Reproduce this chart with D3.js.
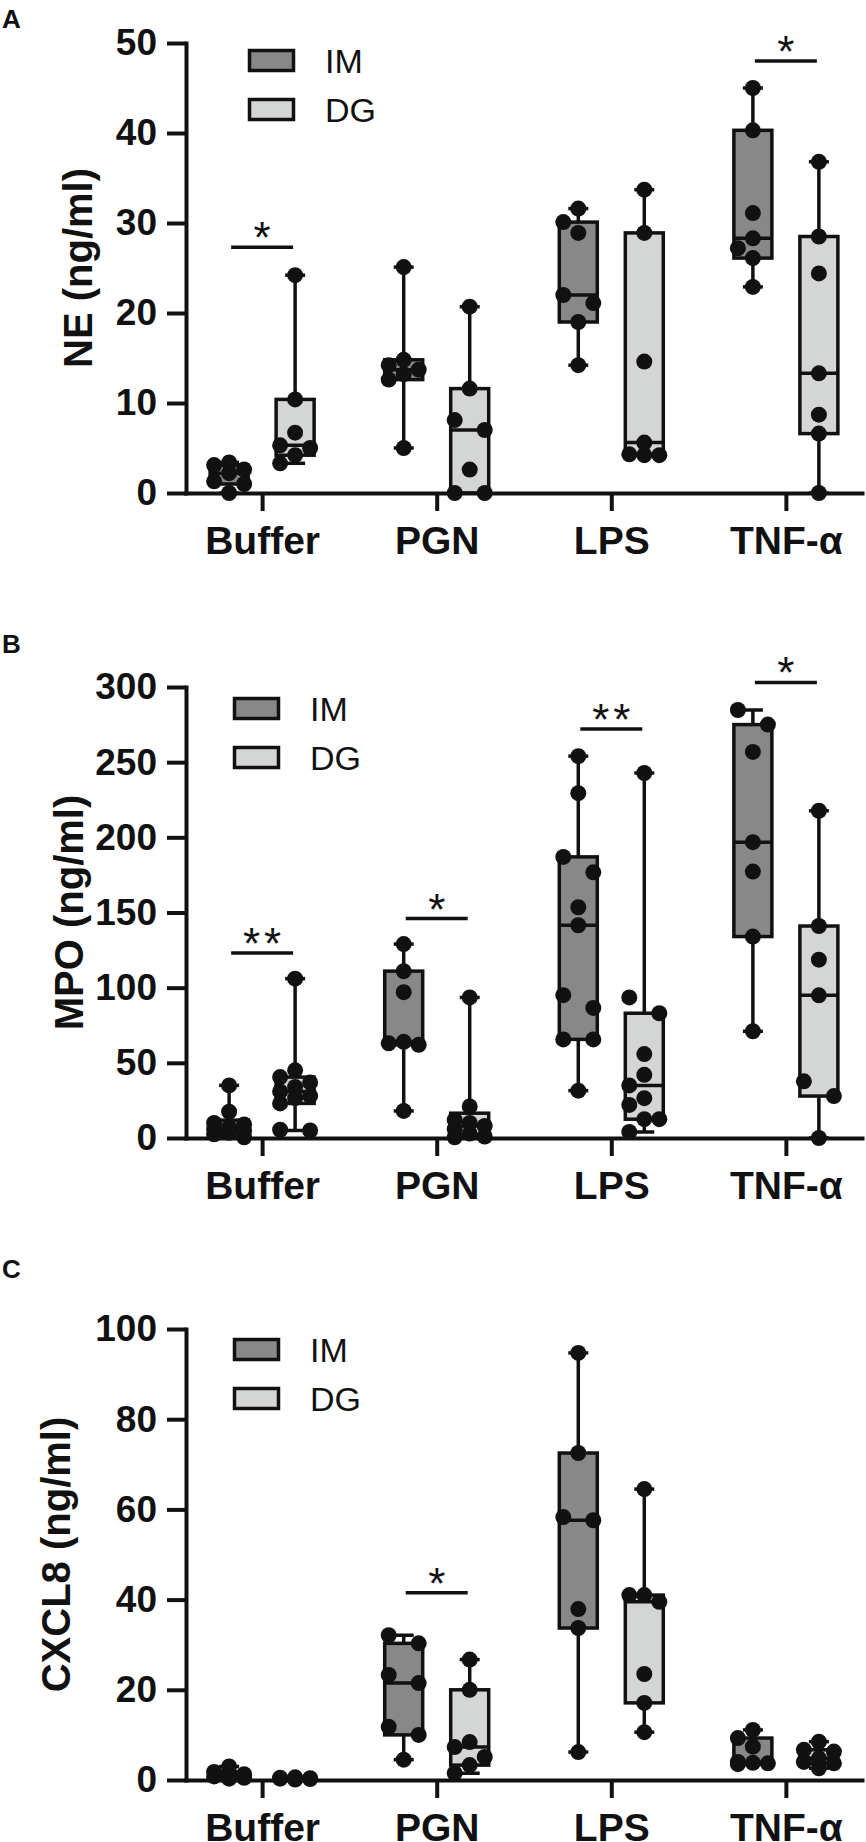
<!DOCTYPE html>
<html>
<head>
<meta charset="utf-8">
<script src="https://cdn.jsdelivr.net/npm/d3@7"></script>
<style>
  body { margin: 0; background: #fff; }
  svg { display: block; }
</style>
</head>
<body>
<div id="vis"></div>
<script>
const FRAME_WIDTH = 866;
const FRAME_HEIGHT = 1842;
const FONT = "'Liberation Sans', Arial, Helvetica, sans-serif";
const INK = '#111';

const CATEGORIES = ['Buffer', 'PGN', 'LPS', 'TNF-α'];
const GROUPS = ['IM', 'DG'];
const GROUP_FILL = ['#878887', '#d4d6d5'];

// NE (ng/ml), one list of replicates per category
const NE_IM = [
  [0, 1.0, 1.3, 2.2, 2.6, 3.1, 3.4],
  [5.0, 12.6, 13.2, 13.7, 14.2, 14.8, 25.1],
  [14.2, 19.0, 21.1, 22.0, 28.9, 30.1, 31.6],
  [22.9, 26.1, 27.2, 28.3, 31.1, 40.3, 45.0]
];
const NE_DG = [
  [3.3, 4.2, 5.0, 5.3, 6.7, 10.4, 24.2],
  [0, 0, 2.6, 7.0, 8.1, 11.6, 20.7],
  [4.2, 4.2, 4.3, 5.6, 14.6, 28.9, 33.7],
  [0, 6.6, 8.7, 13.3, 24.4, 28.5, 36.8]
];

// MPO (ng/ml)
const MPO_IM = [
  [0.5, 2.5, 3.5, 5, 6, 7, 9, 10, 17.5, 35],
  [18, 62, 63, 64, 97, 111, 129],
  [31.5, 65.6, 65.6, 86.5, 95, 141.5, 153.5, 176.7, 187, 229.4, 254],
  [71, 134, 177.2, 196.8, 256.8, 275, 284.7]
];
const MPO_DG = [
  [5, 5.5, 23, 26.6, 28, 31, 34, 37, 40.5, 45, 106],
  [0.5, 1, 3, 6, 8, 10, 12, 21, 93.5],
  [4, 12.5, 12.5, 22, 26.5, 35, 42, 55.8, 83, 93.5, 242.8],
  [0, 27.9, 37.7, 94.9, 118.6, 141, 217.7]
];

// CXCL8 (ng/ml)
const CXCL8_IM = [
  [0.3, 0.5, 0.8, 1.0, 1.3, 1.8, 3.0],
  [4.5, 10.0, 11.8, 21.5, 23.3, 30.3, 32.1],
  [6.2, 33.7, 37.9, 57.6, 58.3, 72.5, 94.7],
  [3.5, 3.7, 3.8, 4.0, 7.4, 9.3, 11.1]
];
const CXCL8_DG = [
  [0.1, 0.2, 0.3, 0.3, 0.4, 0.5, 0.6],
  [1.5, 3.3, 5.1, 7.3, 8.4, 20.0, 26.7],
  [10.6, 17.1, 23.5, 39.5, 41.0, 41.0, 64.5],
  [2.6, 3.7, 4.0, 4.8, 6.3, 6.7, 8.5]
];

const NE_TICKS = [0, 10, 20, 30, 40, 50];
const MPO_TICKS = [0, 50, 100, 150, 200, 250, 300];
const CXCL8_TICKS = [0, 20, 40, 60, 80, 100];

// significance bars: category, height in data units, label
const NE_SIG = [['Buffer', 27.3, '*'], ['TNF-α', 48.0, '*']];
const MPO_SIG = [['Buffer', 123, '**'], ['PGN', 146, '*'], ['LPS', 272, '**'], ['TNF-α', 303, '*']];
const CXCL8_SIG = [['PGN', 41.5, '*']];

// layout
const AXIS_X = 186;
const AXIS_END = 862;
const GROUP_OFFSET = 33;
const BOX_W = 38;
const CAP_W = 20;
const DOT_R = 8;
const SLOT_W = 15;
const MIN_GAP = 16;
const STROKE = 3.5;

const PANELS = [
  { letter: 'A', letterY: 28, title: 'NE (ng/ml)', titleX: 92, im: NE_IM, dg: NE_DG,
    ticks: NE_TICKS, sig: NE_SIG, top: 43, bottom: 493, legendX: 248, legendY: 49 },
  { letter: 'B', letterY: 653, title: 'MPO (ng/ml)', titleX: 83, im: MPO_IM, dg: MPO_DG,
    ticks: MPO_TICKS, sig: MPO_SIG, top: 687, bottom: 1138, legendX: 233, legendY: 697 },
  { letter: 'C', letterY: 1278, title: 'CXCL8 (ng/ml)', titleX: 70, im: CXCL8_IM, dg: CXCL8_DG,
    ticks: CXCL8_TICKS, sig: CXCL8_SIG, top: 1329, bottom: 1780, legendX: 233, legendY: 1338 }
];

// Prism style percentile, (n+1)p rank
function percentile(sorted, p) {
  const n = sorted.length;
  const pos = p * (n + 1);
  if (pos <= 1) return sorted[0];
  if (pos >= n) return sorted[n - 1];
  const lo = Math.floor(pos);
  return sorted[lo - 1] + (pos - lo) * (sorted[lo] - sorted[lo - 1]);
}

// spread overlapping dots over three columns
function swarm(values, yScale) {
  const pts = values.map((v) => ({ v, py: yScale(v), slot: 0 }));
  const order = pts.slice().sort((a, b) => b.v - a.v);
  const placed = [];
  order.forEach((p) => {
    let best = 0;
    let bestGap = -1;
    for (const s of [0, -1, 1]) {
      const gaps = placed.filter((q) => q.slot === s).map((q) => Math.abs(q.py - p.py));
      const gap = gaps.length ? d3.min(gaps) : Infinity;
      if (gap >= MIN_GAP) {
        best = s;
        break;
      }
      if (gap > bestGap) {
        best = s;
        bestGap = gap;
      }
    }
    p.slot = best;
    placed.push(p);
  });

  // an isolated pair sits either side of the centre
  const runs = [];
  let run = [order[0]];
  for (let k = 1; k < order.length; k++) {
    if (Math.abs(order[k].py - order[k - 1].py) < MIN_GAP) run.push(order[k]);
    else {
      runs.push(run);
      run = [order[k]];
    }
  }
  runs.push(run);
  runs.filter((r) => r.length === 2).forEach((r) => {
    r[0].slot = -1;
    r[1].slot = 1;
  });
  return pts;
}

function styleAxis(ax, fontSize) {
  ax.attr('font-family', FONT).attr('font-size', fontSize).attr('font-weight', 'bold');
  ax.select('.domain').attr('stroke', INK).attr('stroke-width', 4).attr('stroke-linecap', 'square');
  ax.selectAll('.tick line').attr('stroke', INK).attr('stroke-width', 4);
  ax.selectAll('.tick text').attr('fill', INK);
}

function drawPanel(svg, p) {
  const Y_SCALE = d3
    .scaleLinear()
    .domain([p.ticks[0], p.ticks[p.ticks.length - 1]])
    .range([p.bottom, p.top]);

  const X_SCALE = d3.scalePoint().domain(CATEGORIES).range([AXIS_X, AXIS_END]).padding(0.436);

  const g = svg.append('g').attr('class', 'panel');

  // panel letter
  g.append('text')
    .attr('x', 2)
    .attr('y', p.letterY)
    .attr('font-family', FONT)
    .attr('font-size', 26)
    .attr('font-weight', 'bold')
    .attr('fill', INK)
    .text(p.letter);

  // boxes, whiskers, dots
  [p.im, p.dg].forEach((series, gi) => {
    series.forEach((vals, ci) => {
      const cx = X_SCALE(CATEGORIES[ci]) + (gi === 0 ? -GROUP_OFFSET : GROUP_OFFSET);
      const sorted = vals.slice().sort((a, b) => a - b);
      const q1 = percentile(sorted, 0.25);
      const med = percentile(sorted, 0.5);
      const q3 = percentile(sorted, 0.75);
      const lo = sorted[0];
      const hi = sorted[sorted.length - 1];
      const box = g.append('g').attr('class', 'box ' + GROUPS[gi]);

      box.append('line')
        .attr('x1', cx).attr('x2', cx)
        .attr('y1', Y_SCALE(hi)).attr('y2', Y_SCALE(lo))
        .attr('stroke', INK).attr('stroke-width', STROKE);
      [hi, lo].forEach((v) => {
        box.append('line')
          .attr('x1', cx - CAP_W / 2).attr('x2', cx + CAP_W / 2)
          .attr('y1', Y_SCALE(v)).attr('y2', Y_SCALE(v))
          .attr('stroke', INK).attr('stroke-width', STROKE);
      });
      box.append('rect')
        .attr('x', cx - BOX_W / 2)
        .attr('y', Y_SCALE(q3))
        .attr('width', BOX_W)
        .attr('height', Y_SCALE(q1) - Y_SCALE(q3))
        .attr('fill', GROUP_FILL[gi])
        .attr('stroke', INK)
        .attr('stroke-width', STROKE);
      box.append('line')
        .attr('x1', cx - BOX_W / 2).attr('x2', cx + BOX_W / 2)
        .attr('y1', Y_SCALE(med)).attr('y2', Y_SCALE(med))
        .attr('stroke', INK).attr('stroke-width', STROKE);

      box.selectAll('circle')
        .data(swarm(vals, Y_SCALE))
        .enter()
        .append('circle')
        .attr('cx', (d) => cx + d.slot * SLOT_W)
        .attr('cy', (d) => d.py)
        .attr('r', DOT_R)
        .attr('fill', INK);
    });
  });

  // axes
  g.append('g')
    .attr('transform', 'translate(' + AXIS_X + ',0)')
    .call(d3.axisLeft(Y_SCALE).tickValues(p.ticks).tickSize(19).tickSizeOuter(0).tickPadding(10))
    .call((ax) => styleAxis(ax, 37));

  g.append('g')
    .attr('transform', 'translate(0,' + p.bottom + ')')
    .call(d3.axisBottom(X_SCALE).tickSize(18).tickSizeOuter(0).tickPadding(15))
    .call((ax) => styleAxis(ax, 39));

  // y title
  g.append('text')
    .attr('transform', 'translate(' + p.titleX + ',' + (p.top + p.bottom) / 2 + ') rotate(-90)')
    .attr('text-anchor', 'middle')
    .attr('font-family', FONT)
    .attr('font-size', 40)
    .attr('font-weight', 'bold')
    .attr('fill', INK)
    .text(p.title);

  // legend
  GROUPS.forEach((name, gi) => {
    const ly = p.legendY + gi * 49;
    g.append('rect')
      .attr('x', p.legendX + 1.5)
      .attr('y', ly + 1.5)
      .attr('width', 44)
      .attr('height', 20)
      .attr('fill', GROUP_FILL[gi])
      .attr('stroke', INK)
      .attr('stroke-width', 3.5);
    g.append('text')
      .attr('x', p.legendX + 77)
      .attr('y', ly + 24)
      .attr('font-family', FONT)
      .attr('font-size', 34)
      .attr('fill', INK)
      .text(name);
  });

  // significance bars
  p.sig.forEach(([cat, level, label]) => {
    const cx = X_SCALE(cat);
    g.append('line')
      .attr('x1', cx - 31).attr('x2', cx + 31)
      .attr('y1', Y_SCALE(level)).attr('y2', Y_SCALE(level))
      .attr('stroke', INK).attr('stroke-width', STROKE);
    g.append('text')
      .attr('x', cx + (label.length > 1 ? 2 : 0))
      .attr('y', Y_SCALE(level) + 6)
      .attr('text-anchor', 'middle')
      .attr('font-family', FONT)
      .attr('font-size', 44)
      .attr('letter-spacing', label.length > 1 ? 4 : 0)
      .attr('fill', INK)
      .text(label);
  });
}

const FRAME = d3
  .select('#vis')
  .append('svg')
  .attr('width', FRAME_WIDTH)
  .attr('height', FRAME_HEIGHT)
  .attr('viewBox', '0 0 ' + FRAME_WIDTH + ' ' + FRAME_HEIGHT);

PANELS.forEach((p) => drawPanel(FRAME, p));
</script>
</body>
</html>
